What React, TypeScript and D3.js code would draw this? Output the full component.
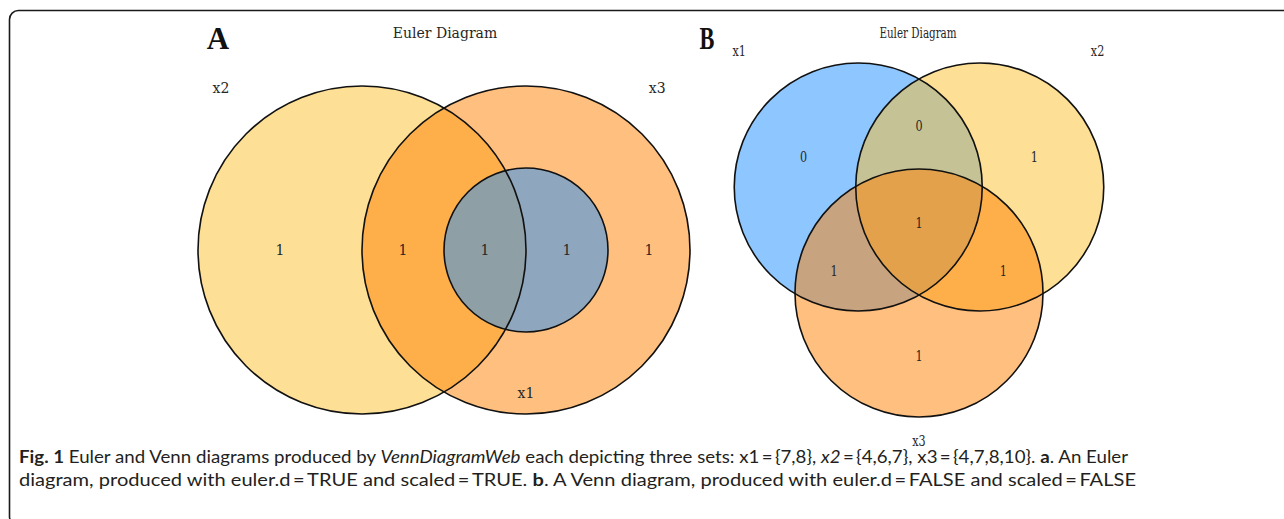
import React from "react";
import * as d3 from "d3";

// ---------- Data ----------
// Panel A: Euler diagram (scaled) – layout in unit coordinates
const eulerSets = ["x2", "x3", "x1"]; // drawing order
const eulerColors = ["#FBBF2B", "#FF7F00", "#1E90FF"];
const eulerCx = [-1, 0, 0];
const eulerCy = [0, 0, 0];
const eulerR = [1, 1, 0.5];
const eulerCounts = [1, 1, 1, 1, 1];
const eulerCountX = [-1.5, -0.75, -0.25, 0.25, 0.75];
const eulerCountY = [0, 0, 0, 0, 0];
const eulerLabelX = [-1.86, 0.8, 0];
const eulerLabelY = [-0.99, -0.99, 0.87];

// Panel B: Venn diagram (unscaled)
const vennSets = ["x1", "x2", "x3"];
const vennColors = ["#1E90FF", "#FBBF2B", "#FF7F00"];
const vennCx = [-0.49, 0.49, 0];
const vennCy = [-0.29, -0.29, 0.565];
const vennR = [1, 1, 1];
const vennCounts = [0, 0, 1, 1, 1, 1, 1];
const vennCountX = [-0.93, 0, 0.93, 0, -0.685, 0.68, 0];
const vennCountY = [-0.53, -0.78, -0.53, 0, 0.39, 0.39, 1.07];
const vennLabelX = [-1.45, 1.44, 0];
const vennLabelY = [-1.39, -1.39, 1.76];

const panelTitle = "Euler Diagram";

const captionLine1 = [
  { t: "Fig. 1", w: "bold" },
  { t: " Euler and Venn diagrams produced by " },
  { t: "VennDiagramWeb", s: "italic" },
  { t: " each depicting three sets: x1\u2009=\u2009{7,8}, " },
  { t: "x2", s: "italic" },
  { t: "\u2009=\u2009{4,6,7}, x3\u2009=\u2009{4,7,8,10}. " },
  { t: "a", w: "bold" },
  { t: ". An Euler" },
];
const captionLine2 = [
  { t: "diagram, produced with euler.d\u2009=\u2009TRUE and scaled\u2009=\u2009TRUE. " },
  { t: "b", w: "bold" },
  { t: ". A Venn diagram, produced with euler.d\u2009=\u2009FALSE and scaled\u2009=\u2009FALSE" },
];

const W = 1284;
const H = 519;
const serif = "'DejaVu Serif', serif";
const textColor = "#262626";

function Panel(props: {
  unit: number;
  ox: number;
  oy: number;
  sets: string[];
  colors: string[];
  cx: number[];
  cy: number[];
  r: number[];
  counts: number[];
  countX: number[];
  countY: number[];
  labelX: number[];
  labelY: number[];
  sx: number;
}) {
  const { unit, ox, oy, sx } = props;
  const x = d3.scaleLinear().domain([-1, 1]).range([ox - unit, ox + unit]);
  const y = d3.scaleLinear().domain([-1, 1]).range([oy - unit, oy + unit]);
  const rs = (v: number) => x(v) - x(0);
  const txt = (px: number, py: number, s: string, key: string) => (
    <text
      key={key}
      transform={`translate(${px},${py}) scale(${sx},1)`}
      textAnchor="middle"
      dominantBaseline="central"
      fontFamily={serif}
      fontSize={14}
      fill={textColor}
    >
      {s}
    </text>
  );
  return (
    <g>
      {props.sets.map((s, i) => (
        <circle
          key={"f" + s}
          cx={x(props.cx[i])}
          cy={y(props.cy[i])}
          r={rs(props.r[i])}
          fill={props.colors[i]}
          fillOpacity={0.5}
        />
      ))}
      {props.sets.map((s, i) => (
        <circle
          key={"s" + s}
          cx={x(props.cx[i])}
          cy={y(props.cy[i])}
          r={rs(props.r[i])}
          fill="none"
          stroke="#111"
          strokeWidth={1.6}
        />
      ))}
      {props.counts.map((c, i) => txt(x(props.countX[i]), y(props.countY[i]), String(c), "c" + i))}
      {props.sets.map((s, i) => txt(x(props.labelX[i]), y(props.labelY[i]), s, "l" + s))}
    </g>
  );
}

function Caption(props: { parts: { t: string; w?: string; s?: string }[]; y: number; len: number }) {
  return (
    <text
      x={19}
      y={props.y}
      fontFamily="Lato, 'Open Sans', sans-serif"
      fontSize={16.5}
      fill="#231F20"
      textLength={props.len}
      lengthAdjust="spacingAndGlyphs"
      style={{ whiteSpace: "pre" }}
    >
      {props.parts.map((p, i) => (
        <tspan key={i} fontWeight={p.w || "normal"} fontStyle={p.s || "normal"}>
          {p.t}
        </tspan>
      ))}
    </text>
  );
}

export default function App() {
  return (
    <svg
      width={W}
      height={H}
      style={{ position: "absolute", left: 0, top: 0, background: "#fff" }}
    >
      <rect x={0} y={0} width={W} height={H} fill="#fff" />
      <rect
        x={9.5}
        y={10.5}
        width={1320}
        height={515}
        rx={9}
        ry={9}
        fill="none"
        stroke="#1a1a1a"
        strokeWidth={1.6}
      />
      {/* Panel A */}
      <text x={218} y={49} textAnchor="middle" fontFamily="'Liberation Serif', serif" fontWeight="bold" fontSize={31} fill="#111">
        A
      </text>
      <text x={445} y={33} textAnchor="middle" dominantBaseline="central" fontFamily={serif} fontSize={14} fill={textColor}>
        {panelTitle}
      </text>
      <Panel
        unit={164}
        ox={526}
        oy={250}
        sets={eulerSets}
        colors={eulerColors}
        cx={eulerCx}
        cy={eulerCy}
        r={eulerR}
        counts={eulerCounts}
        countX={eulerCountX}
        countY={eulerCountY}
        labelX={eulerLabelX}
        labelY={eulerLabelY}
        sx={1}
      />
      {/* Panel B */}
      <text
        transform="translate(707,49) scale(0.72,1)"
        textAnchor="middle"
        fontFamily="'Liberation Serif', serif"
        fontWeight="bold"
        fontSize={31}
        fill="#111"
      >
        B
      </text>
      <text
        transform="translate(918,33) scale(0.74,1)"
        textAnchor="middle"
        dominantBaseline="central"
        fontFamily={serif}
        fontSize={14}
        fill={textColor}
      >
        {panelTitle}
      </text>
      <Panel
        unit={124}
        ox={919}
        oy={223}
        sets={vennSets}
        colors={vennColors}
        cx={vennCx}
        cy={vennCy}
        r={vennR}
        counts={vennCounts}
        countX={vennCountX}
        countY={vennCountY}
        labelX={vennLabelX}
        labelY={vennLabelY}
        sx={0.8}
      />
      <Caption parts={captionLine1} y={463} len={1109} />
      <Caption parts={captionLine2} y={486} len={1117} />
    </svg>
  );
}
